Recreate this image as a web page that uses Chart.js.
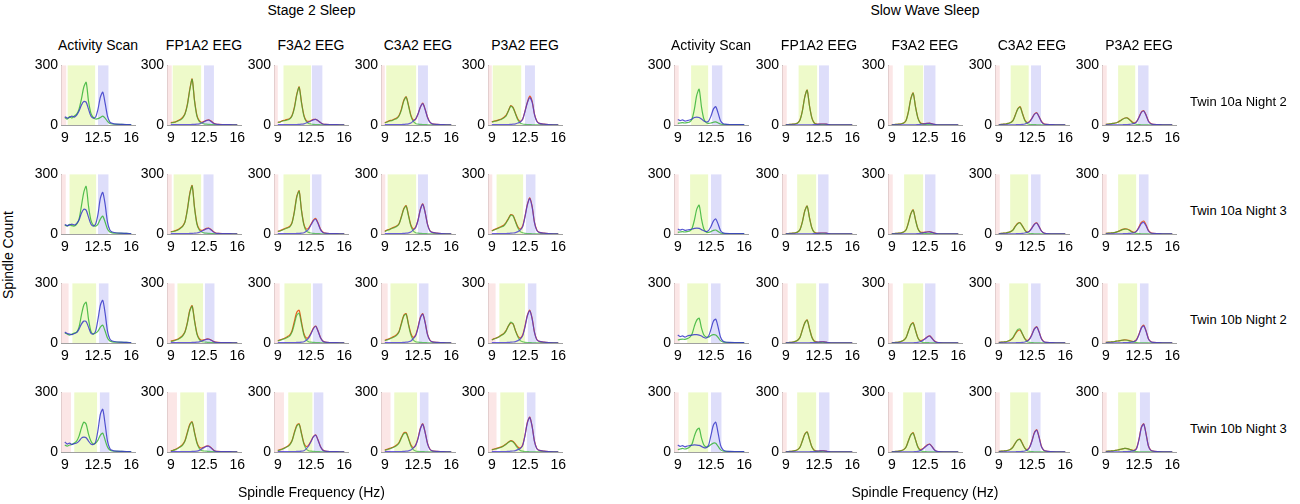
<!DOCTYPE html>
<html><head><meta charset="utf-8">
<script src="https://cdn.jsdelivr.net/npm/chart.js@4.4.0/dist/chart.umd.min.js"></script>
<style>
body{margin:0;background:#fff;font-family:"Liberation Sans",Arial,sans-serif;color:#000}
#wrap{position:relative;width:1300px;height:504px;overflow:hidden}
.lbl{position:absolute;font-size:14px;white-space:nowrap;line-height:16px}
canvas{position:absolute}
</style></head><body><div id="wrap"></div>
<script>
// frequency bins (Hz)
var freqs=[9,9.25,9.5,9.75,10,10.25,10.5,10.75,11,11.25,11.5,11.75,12,12.25,12.5,12.75,13,13.25,13.5,13.75,14,14.5,15,15.5,16];
var xTicks=[9,12.5,16];
var yTicks=[0,300];
var panelTitles=['Activity Scan','FP1A2 EEG','F3A2 EEG','C3A2 EEG','P3A2 EEG'];
var groupTitles=['Stage 2 Sleep','Slow Wave Sleep'];
var rowLabels=['Twin 10a Night 2','Twin 10a Night 3','Twin 10b Night 2','Twin 10b Night 3'];

// Stage 2 sleep, row by row, 5 panels per row
var stage2Green=[
[38,30,42,35,45,55,80,130,190,215,120,60,38,30,32,38,45,35,18,8,5,3,3,2,2],
[10,12,15,20,25,35,55,100,175,230,120,45,18,10,6,4,3,2,2,1,1,1,1,1,1],
[12,15,20,22,25,30,45,85,150,190,110,45,18,8,5,3,2,2,1,1,1,1,1,1,1],
[10,15,20,22,28,32,45,75,120,140,95,45,18,8,4,3,2,2,1,1,1,1,1,1,1],
[15,18,20,25,28,35,45,70,95,85,55,25,10,5,3,2,2,1,1,1,1,1,1,1,1],
[45,40,48,42,40,50,75,140,210,240,140,70,45,40,50,75,90,60,25,10,6,4,3,3,2],
[10,12,15,20,28,38,60,120,200,242,130,50,20,10,6,4,3,2,2,1,1,1,1,1,1],
[12,15,20,25,30,35,55,110,185,215,115,45,15,8,5,3,2,2,1,1,1,1,1,1,1],
[12,18,22,28,32,38,50,85,125,140,90,40,15,6,4,3,2,2,1,1,1,1,1,1,1],
[15,20,25,30,35,40,55,75,95,90,60,30,12,6,3,2,2,1,1,1,1,1,1,1,1],
[50,45,40,45,50,55,80,140,190,205,120,60,45,50,60,80,90,60,25,10,6,4,3,3,2],
[8,10,14,18,25,35,55,100,160,185,110,45,18,8,5,4,3,2,2,1,1,1,1,1,1],
[10,14,18,22,28,35,55,95,140,150,95,40,15,6,4,3,2,2,1,1,1,1,1,1,1],
[12,16,20,25,30,38,55,95,135,145,90,40,15,6,4,3,2,2,1,1,1,1,1,1,1],
[15,20,25,30,38,45,60,85,105,95,60,30,12,6,3,2,2,1,1,1,1,1,1,1,1],
[35,30,35,38,45,55,80,120,150,140,90,55,40,45,60,85,95,60,25,10,5,3,3,2,2],
[5,8,12,18,25,35,55,95,135,150,95,45,18,8,5,4,3,2,2,1,1,1,1,1,1],
[6,10,14,20,26,35,55,95,130,140,90,40,15,6,4,3,2,2,1,1,1,1,1,1,1],
[8,12,16,20,25,32,45,70,92,95,65,30,12,5,3,2,2,1,1,1,1,1,1,1,1],
[10,14,16,20,24,30,38,48,55,50,35,18,8,4,2,2,1,1,1,1,1,1,1,1,1]
];
var stage2Red=[
null,
[12,14,16,22,28,38,58,105,180,232,125,50,22,14,18,24,26,20,10,5,3,2,2,1,1],
[14,16,22,24,28,32,48,90,155,192,115,50,22,18,22,28,28,22,12,5,3,2,2,1,1],
[12,16,22,24,30,35,48,80,125,142,100,50,25,30,55,90,110,80,40,15,6,3,2,1,1],
[16,20,22,26,30,38,48,72,98,88,58,30,18,30,70,115,145,120,55,20,8,4,2,1,1],
null,
[12,14,17,22,30,40,63,125,205,245,135,55,25,18,22,28,30,22,12,5,3,2,2,1,1],
[14,17,22,28,32,38,58,115,190,218,120,50,25,30,50,70,78,55,25,10,4,2,2,1,1],
[14,20,24,30,35,40,52,88,128,143,95,45,25,35,70,125,152,110,50,18,8,4,2,1,1],
[16,22,27,32,38,44,58,78,98,93,64,36,25,40,90,150,182,140,60,20,8,4,2,1,1],
null,
[10,12,16,20,28,38,58,104,165,188,115,50,22,14,16,20,20,15,8,4,3,2,2,1,1],
[12,16,20,25,32,40,62,110,155,165,105,48,25,30,50,75,85,60,28,10,4,2,2,1,1],
[14,18,22,28,34,42,58,100,140,148,95,48,28,40,80,130,148,105,45,15,6,3,2,1,1],
[16,22,26,32,40,47,62,86,100,96,62,35,25,40,85,140,165,125,55,18,8,4,2,1,1],
null,
[6,9,14,20,28,38,58,100,140,152,100,50,24,20,25,30,30,22,10,4,3,2,2,1,1],
[8,12,16,22,28,38,58,100,135,142,95,45,28,35,55,78,86,60,28,10,4,2,2,1,1],
[10,14,18,22,28,35,48,74,96,98,70,36,22,35,70,120,142,100,45,15,6,3,2,1,1],
[12,15,18,22,26,32,40,50,57,53,40,25,20,35,85,150,176,130,55,18,8,4,2,1,1]
];
var stage2Blue=[
[42,35,38,45,40,50,70,100,118,115,80,45,35,40,80,140,165,110,45,15,8,4,3,2,2],
[2,2,2,2,2,2,2,2,2,3,3,4,6,10,16,22,25,18,9,4,3,2,2,1,1],
[2,2,2,2,2,2,2,2,2,3,4,6,10,15,20,26,28,22,12,5,3,2,2,1,1],
[2,2,2,2,2,2,2,2,3,4,6,10,20,30,55,90,108,78,38,14,6,3,2,1,1],
[2,2,2,2,2,2,2,2,3,4,6,10,15,28,68,112,138,115,52,18,8,4,2,1,1],
[48,42,45,50,45,52,70,105,125,120,85,50,40,50,100,180,210,150,60,20,10,5,4,3,2],
[2,2,2,2,2,2,2,2,3,3,4,5,8,14,20,26,28,20,10,4,3,2,2,1,1],
[2,2,2,2,2,2,2,2,3,3,4,6,14,25,45,66,74,52,22,8,4,2,2,1,1],
[2,2,2,2,2,2,2,2,3,4,6,10,20,32,68,122,150,108,48,16,8,4,2,1,1],
[2,2,2,2,2,2,2,3,4,5,7,12,20,36,86,146,178,136,56,18,8,4,2,1,1],
[55,48,45,42,48,52,70,95,110,108,80,50,45,60,120,190,215,150,60,20,10,5,4,3,2],
[2,2,2,2,2,2,2,2,2,3,3,4,6,10,14,18,19,14,7,3,2,2,2,1,1],
[2,2,2,2,2,2,2,2,3,3,4,6,14,25,46,72,84,58,26,9,4,2,2,1,1],
[2,2,2,2,2,2,2,2,3,4,6,10,22,36,76,126,145,102,42,14,6,3,2,1,1],
[2,2,2,2,2,2,2,3,4,5,7,12,20,36,80,136,162,122,52,16,8,4,2,1,1],
[50,40,45,38,42,45,55,70,75,72,55,40,38,50,110,190,215,140,55,18,8,4,3,2,2],
[2,2,2,2,2,2,2,2,2,3,3,4,8,15,22,28,29,20,9,3,2,2,2,1,1],
[2,2,2,2,2,2,2,2,3,3,4,6,16,30,52,76,85,58,26,9,4,2,2,1,1],
[2,2,2,2,2,2,2,2,3,4,6,10,20,32,66,116,140,98,42,14,6,3,2,1,1],
[2,2,2,2,2,2,2,3,4,5,7,12,18,32,82,146,174,128,52,16,8,4,2,1,1]
];

// Slow wave sleep
var swsGreen=[
[8,10,12,10,12,15,30,80,150,180,90,30,12,8,10,14,16,10,5,3,2,2,2,2,2],
[2,2,3,4,6,10,25,70,140,175,95,35,10,4,2,2,2,1,1,1,1,1,1,1,1],
[2,2,3,4,6,10,22,65,130,160,90,35,10,4,2,2,2,1,1,1,1,1,1,1,1],
[2,3,4,5,8,12,22,50,80,90,55,22,8,3,2,2,1,1,1,1,1,1,1,1,1],
[3,4,6,8,10,14,20,28,34,35,26,14,6,3,2,1,1,1,1,1,1,1,1,1,1],
[8,10,12,10,12,15,28,70,125,145,75,25,10,8,12,18,20,12,5,3,2,2,2,2,2],
[2,2,3,4,6,10,22,60,115,140,80,30,8,3,2,2,2,1,1,1,1,1,1,1,1],
[2,2,3,4,6,10,20,55,100,120,70,26,8,3,2,2,2,1,1,1,1,1,1,1,1],
[2,3,4,5,8,12,20,38,52,55,38,18,6,3,2,1,1,1,1,1,1,1,1,1,1],
[3,4,5,6,8,12,16,22,25,24,18,10,5,3,2,1,1,1,1,1,1,1,1,1,1],
[15,18,20,18,22,28,45,85,115,125,75,40,30,30,38,42,40,28,12,5,3,2,2,2,2],
[2,2,3,4,8,14,28,65,100,115,70,28,8,3,2,2,2,1,1,1,1,1,1,1,1],
[2,2,3,4,8,14,26,58,90,100,62,25,8,3,2,2,1,1,1,1,1,1,1,1,1],
[3,4,5,6,10,16,28,50,68,70,45,20,6,3,2,1,1,1,1,1,1,1,1,1,1],
[3,4,5,6,8,10,12,14,15,14,11,7,4,2,1,1,1,1,1,1,1,1,1,1,1],
[12,15,18,15,18,25,40,80,110,120,70,35,25,28,38,45,44,28,12,5,3,2,2,2,2],
[2,2,3,4,7,12,24,55,88,100,62,25,7,3,2,2,1,1,1,1,1,1,1,1,1],
[2,2,3,4,7,12,24,55,85,95,60,24,7,3,2,1,1,1,1,1,1,1,1,1,1],
[3,4,5,6,9,14,25,45,60,62,40,18,6,3,2,1,1,1,1,1,1,1,1,1,1],
[3,4,5,6,8,10,13,16,18,17,13,8,4,2,1,1,1,1,1,1,1,1,1,1,1]
];
var swsRed=[
null,
[2,2,3,4,6,10,26,72,142,176,96,36,11,5,4,5,5,4,2,1,1,1,1,1,1],
[2,2,3,4,6,10,23,67,132,162,92,36,12,7,7,8,9,6,3,1,1,1,1,1,1],
[2,3,4,5,8,12,23,52,82,92,58,25,12,18,35,55,62,42,18,6,3,2,1,1,1],
[3,4,6,8,10,14,21,29,35,36,28,16,10,18,40,65,72,50,20,7,3,2,1,1,1],
null,
[2,2,3,4,6,10,23,62,117,141,82,31,9,5,4,5,5,4,2,1,1,1,1,1,1],
[2,2,3,4,6,10,21,57,102,122,72,28,10,8,9,11,12,8,4,2,1,1,1,1,1],
[2,3,4,5,8,12,21,40,54,57,40,20,10,16,32,50,56,38,15,5,2,1,1,1,1],
[3,4,5,6,8,12,17,23,26,25,20,12,8,16,36,58,65,45,18,6,3,2,1,1,1],
null,
[2,2,3,4,8,14,29,67,102,116,72,30,10,6,5,6,6,4,2,1,1,1,1,1,1],
[2,2,3,4,8,14,27,60,92,102,64,27,12,15,22,32,36,24,10,4,2,1,1,1,1],
[3,4,5,6,10,15,26,46,62,64,44,22,12,22,45,72,82,56,22,7,3,2,1,1,1],
[3,4,5,6,8,10,12,14,16,15,12,9,8,18,45,78,90,60,22,7,3,2,1,1,1],
null,
[2,2,3,4,7,12,25,57,90,101,64,26,9,5,5,6,6,4,2,1,1,1,1,1,1],
[2,2,3,4,7,12,25,57,87,97,62,26,12,16,26,36,40,27,11,4,2,1,1,1,1],
[3,4,5,6,9,14,26,46,61,64,42,20,12,25,58,98,112,75,28,9,4,2,1,1,1],
[3,4,5,6,8,10,13,16,18,17,14,10,8,20,65,125,142,90,30,9,4,2,1,1,1]
];
var swsBlue=[
[28,22,26,20,22,25,30,38,40,38,30,20,15,20,45,80,92,60,22,8,4,2,2,2,2],
[1,1,1,1,1,1,1,1,1,1,1,1,2,3,4,5,5,4,2,1,1,1,1,1,1],
[1,1,1,1,1,1,1,1,1,1,1,2,3,5,6,8,8,6,3,1,1,1,1,1,1],
[1,1,1,1,1,1,1,1,2,2,3,5,10,16,33,53,60,40,16,5,3,2,1,1,1],
[1,1,1,1,1,1,1,1,2,2,3,5,8,16,38,63,70,48,18,6,3,2,1,1,1],
[25,20,24,18,20,22,25,28,30,28,22,16,12,18,38,65,76,50,18,6,3,2,2,2,2],
[1,1,1,1,1,1,1,1,1,1,1,1,2,3,4,5,5,4,2,1,1,1,1,1,1],
[1,1,1,1,1,1,1,1,1,1,1,2,3,6,8,10,11,8,4,2,1,1,1,1,1],
[1,1,1,1,1,1,1,1,2,2,3,5,8,14,30,48,55,36,14,5,2,1,1,1,1],
[1,1,1,1,1,1,1,1,2,2,3,4,6,14,32,52,58,40,15,5,3,2,1,1,1],
[40,32,36,30,35,38,40,42,42,40,35,28,25,35,70,110,120,80,30,10,5,3,2,2,2],
[1,1,1,1,1,1,1,1,1,1,1,2,2,4,5,6,6,4,2,1,1,1,1,1,1],
[1,1,1,1,1,1,1,1,1,1,2,3,6,12,20,30,35,22,9,3,2,1,1,1,1],
[1,1,1,1,1,1,1,1,2,2,3,5,10,20,42,70,80,54,20,6,3,2,1,1,1],
[1,1,1,1,1,1,1,1,2,2,3,4,7,16,42,75,86,58,20,6,3,2,1,1,1],
[35,28,32,26,30,32,34,36,35,33,28,22,22,35,85,135,150,95,35,12,5,3,2,2,2],
[1,1,1,1,1,1,1,1,1,1,1,2,2,4,5,6,6,4,2,1,1,1,1,1,1],
[1,1,1,1,1,1,1,1,1,1,2,3,7,14,24,34,39,26,10,3,2,1,1,1,1],
[1,1,1,1,1,1,1,1,2,2,3,5,10,23,55,95,110,72,26,8,4,2,1,1,1],
[1,1,1,1,1,1,1,1,2,2,3,4,7,18,62,122,140,88,28,8,4,2,1,1,1]
];

// shaded bands: pink start/end, green start/end, blue start/end (Hz)
var stage2Bands=[
[8.6,9.15,9.3,12.2,12.5,13.6],[8.6,9.1,9.2,12.2,12.5,13.55],[8.6,9.0,9.6,12.5,12.6,13.7],[8.6,9.0,9.15,12.3,12.5,13.55],[8.6,9.0,9.1,12.1,12.5,13.55],
[8.6,9.1,9.5,12.3,12.5,13.6],[8.6,9.1,9.3,12.2,12.45,13.5],[8.6,9.05,9.6,12.4,12.6,13.6],[8.6,9.05,9.3,12.3,12.5,13.55],[8.6,9.05,9.5,12.3,12.6,13.6],
[8.6,9.4,9.8,12.3,12.6,13.6],[8.6,9.4,9.7,12.4,12.6,13.6],[8.6,9.2,9.7,12.5,12.7,13.7],[8.6,9.3,9.6,12.4,12.6,13.6],[8.6,9.4,9.8,12.5,12.8,13.7],
[8.6,9.65,10.0,12.4,12.7,13.7],[8.6,9.65,10.0,12.5,12.8,13.8],[8.6,9.65,10.1,12.65,12.8,13.8],[8.6,9.6,10.0,12.4,12.7,13.6],[8.6,9.5,9.9,12.4,12.7,13.6]
];
var swsBands=[
[8.6,9.1,10.4,12.2,12.6,13.7],[8.6,9.1,10.35,12.3,12.5,13.55],[8.6,9.1,10.3,12.3,12.4,13.6],[8.6,9.1,10.25,12.15,12.4,13.45],[8.6,9.1,10.3,12.1,12.4,13.5],
[8.6,9.1,10.3,12.2,12.5,13.6],[8.6,9.1,10.2,12.2,12.4,13.5],[8.6,9.1,10.3,12.3,12.5,13.6],[8.6,9.1,10.2,12.1,12.4,13.4],[8.6,9.1,10.3,12.2,12.5,13.5],
[8.6,9.2,10.0,12.2,12.5,13.5],[8.6,9.2,10.1,12.2,12.5,13.5],[8.6,9.1,10.2,12.3,12.5,13.6],[8.6,9.1,10.1,12.1,12.4,13.4],[8.6,9.2,10.3,12.3,12.6,13.5],
[8.6,9.1,10.1,12.2,12.5,13.6],[8.6,9.1,10.2,12.2,12.5,13.6],[8.6,9.1,10.2,12.2,12.5,13.6],[8.6,9.1,10.2,12.1,12.4,13.4],[8.6,9.1,10.3,12.2,12.6,13.65]
];

var FONT='"Liberation Sans", Arial, sans-serif';
var wrap=document.getElementById('wrap');
var colAxis=[[61,167,274,381,488],[674,782,888,995,1102]];
var rowTop=[62,171,280,389];
var PH=63, PW=74;

function addLabel(txt,x,y,opts){
  var d=document.createElement('div');d.className='lbl';d.textContent=txt;
  d.style.left=x+'px';d.style.top=y+'px';
  if(opts)for(var k in opts)d.style[k]=opts[k];
  wrap.appendChild(d);return d;
}
function pts(vals){return freqs.map(function(f,i){return {x:f,y:vals[i]};});}

function makePanel(g,r,c){
  var k=r*5+c;
  var green=(g?swsGreen:stage2Green)[k],red=(g?swsRed:stage2Red)[k],blue=(g?swsBlue:stage2Blue)[k];
  var band=(g?swsBands:stage2Bands)[k];
  var cv=document.createElement('canvas');
  cv.width=120;cv.height=94;
  cv.style.left=(colAxis[g][c]-36)+'px';cv.style.top=(rowTop[r]-8)+'px';
  wrap.appendChild(cv);
  var ds=[];
  if(red){
    ds.push({data:pts(blue),borderColor:'rgba(70,55,215,0.8)'});
    ds.push({data:pts(green),borderColor:'rgba(50,175,50,0.7)'});
    ds.push({data:pts(red),borderColor:'rgb(235,95,35)'});
  }else{
    ds.push({data:pts(blue),borderColor:'rgba(55,55,200,0.85)'});
    ds.push({data:pts(green),borderColor:'rgba(55,180,55,0.85)'});
  }
  ds.forEach(function(d){d.borderWidth=1.2;d.pointRadius=0;d.tension=0.25;d.fill=false;});
  var bandPlugin={id:'bands',beforeDatasetsDraw:function(ch){
    var x=ch.scales.x,a=ch.chartArea,ctx=ch.ctx;
    var cols=['rgba(250,222,222,0.75)','rgba(236,249,196,0.9)','rgba(218,218,250,0.9)'];
    ctx.save();
    for(var i=0;i<3;i++){
      var x0=x.getPixelForValue(band[i*2]),x1=x.getPixelForValue(band[i*2+1]);
      ctx.fillStyle=cols[i];ctx.fillRect(x0,a.top,x1-x0,a.bottom-a.top);
    }
    ctx.restore();
  }};
  new Chart(cv,{type:'line',data:{datasets:ds},plugins:[bandPlugin],
    options:{responsive:false,animation:false,events:[],
      layout:{padding:{top:8,right:10,left:0,bottom:0}},
      plugins:{legend:{display:false},tooltip:{enabled:false}},
      scales:{
        x:{type:'linear',min:8.6,max:16.4,grid:{display:false,drawTicks:false},
          border:{color:'#a0a0a0',width:1},
          afterBuildTicks:function(s){s.ticks=xTicks.map(function(v){return {value:v};});},
          afterFit:function(s){s.height=23;},
          ticks:{color:'#000',font:{family:FONT,size:14},padding:5,maxRotation:0,autoSkip:false,
            callback:function(v){return String(v);}}},
        y:{min:0,max:300,grid:{display:false,drawTicks:false},
          border:{color:'#a0a0a0',width:1},
          afterBuildTicks:function(s){s.ticks=yTicks.map(function(v){return {value:v};});},
          afterFit:function(s){s.width=36;},
          ticks:{color:'#000',font:{family:FONT,size:14},padding:3,
            callback:function(v){return String(v);}}}
      }}});
}

for(var g=0;g<2;g++){
  for(var r=0;r<4;r++)for(var c=0;c<5;c++)makePanel(g,r,c);
  for(var c2=0;c2<5;c2++){
    addLabel(panelTitles[c2],colAxis[g][c2]+PW/2-60,37,{width:'120px',textAlign:'center'});
  }
  var mid=(colAxis[g][0]+colAxis[g][4]+PW)/2;
  addLabel(groupTitles[g],mid-100,2,{width:'200px',textAlign:'center'});
  addLabel('Spindle Frequency (Hz)',mid-100,484,{width:'200px',textAlign:'center'});
}
for(var r2=0;r2<4;r2++){
  addLabel(rowLabels[r2],1190,rowTop[r2]+32,{fontSize:'13px'});
}
addLabel('Spindle Count',-42,247,{width:'100px',textAlign:'center',transform:'rotate(-90deg)'});
</script>
</body></html>
